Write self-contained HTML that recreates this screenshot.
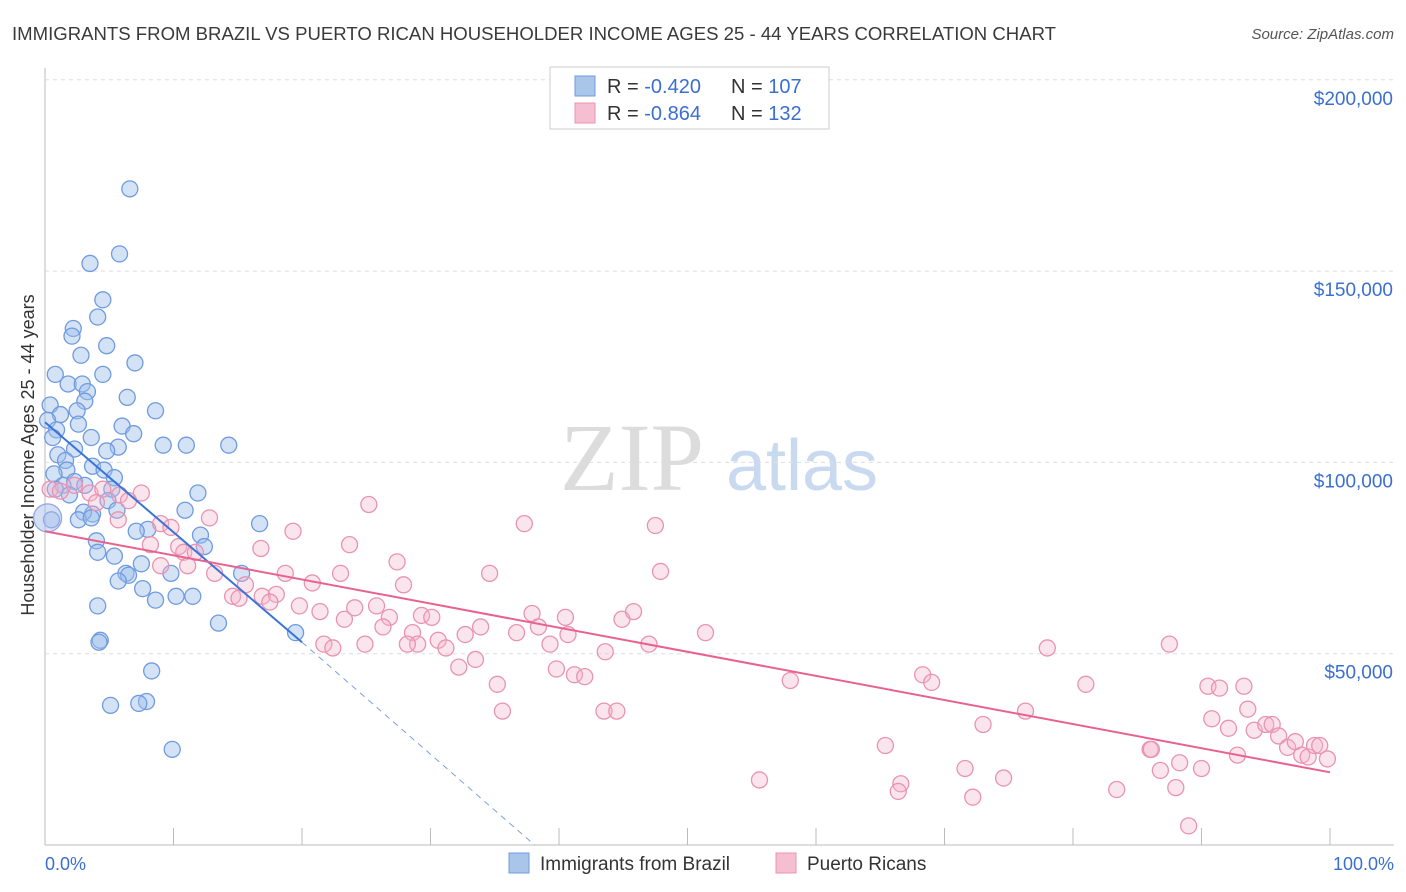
<!DOCTYPE html>
<html><head><meta charset="utf-8">
<style>
body{margin:0;background:#fff;font-family:"Liberation Sans",sans-serif;}
svg{display:block}
</style></head>
<body>
<svg id="chart" width="1406" height="892">
<text x="12" y="40" font-size="18" fill="#3a3a3a" textLength="1044" lengthAdjust="spacingAndGlyphs">IMMIGRANTS FROM BRAZIL VS PUERTO RICAN HOUSEHOLDER INCOME AGES 25 - 44 YEARS CORRELATION CHART</text>
<text x="1394" y="39" font-size="15" fill="#555" text-anchor="end" font-style="italic">Source: ZipAtlas.com</text>
<text x="0" y="0" transform="translate(34,455) rotate(-90)" font-size="18" fill="#333" text-anchor="middle">Householder Income Ages 25 - 44 years</text>
<g>
<text x="632" y="490" font-size="96" fill="#dcdcdc" font-family="Liberation Serif,serif" text-anchor="middle">ZIP</text>
<text x="802" y="490" font-size="72" fill="#c9daf0" text-anchor="middle">atlas</text>
</g>
<g id="grid"></g>
<g id="marks"></g>
<g>
<rect x="550" y="67" width="279" height="62" fill="#fff" stroke="#ccc"/>
<rect x="575" y="76" width="20" height="20" fill="#a9c5ea" stroke="#6f9be0"/>
<rect x="575" y="103" width="20" height="20" fill="#f6bfd1" stroke="#e993b1"/>
<text x="607" y="93" font-size="20" fill="#333">R = <tspan fill="#3a6fd0">-0.420</tspan></text>
<text x="731" y="93" font-size="20" fill="#333">N = <tspan fill="#3a6fd0">107</tspan></text>
<text x="607" y="120" font-size="20" fill="#333">R = <tspan fill="#3a6fd0">-0.864</tspan></text>
<text x="731" y="120" font-size="20" fill="#333">N = <tspan fill="#3a6fd0">132</tspan></text>
</g>
<g>
<rect x="509" y="853" width="20" height="20" fill="#a9c5ea" stroke="#6f9be0"/>
<text x="540" y="870" font-size="19" fill="#333">Immigrants from Brazil</text>
<rect x="776" y="853" width="20" height="20" fill="#f6bfd1" stroke="#e993b1"/>
<text x="807" y="870" font-size="19" fill="#333">Puerto Ricans</text>
</g>
<text x="45" y="870" font-size="18" fill="#3a6fd0">0.0%</text>
<text x="1394" y="870" font-size="18" fill="#3a6fd0" text-anchor="end">100.0%</text>
</svg>
<script>
const yTicks=[50000,100000,150000,200000];
const yTickLabels=["$50,000","$100,000","$150,000","$200,000"];
const xTicks=[0,10,20,30,40,50,60,70,80,90,100];
const brazilX=[6.6,5.8,3.5,4.5,4.1,2.2,2.1,4.8,2.8,7,0.8,4.5,1.8,2.9,3.3,6.4,3.1,8.6,0.4,2.5,1.2,0.2,2.6,6,0.9,6.9,3.6,0.6,9.2,11,14.3,5.7,4.8,2.3,1,1.6,3.7,4.6,1.7,0.7,5.4,2.3,1.4,3.1,5.2,11.9,0.8,1.9,4.9,5.6,3.7,3.0,10.9,2.6,3.6,16.7,8,7.1,12.1,0.5,12.4,4.0,4.1,5.4,7.5,6.3,6.5,9.8,15.3,5.7,7.6,10.2,11.5,8.6,4.1,13.5,19.5,4.3,8.3,5.1,7.9,7.3,9.9,4.2];
const brazilY=[171.5,154.5,152,142.5,138,135,133,130.5,128,126,123,123,120.5,120.5,118.5,117,116,113.5,115,113.5,112.5,111,110,109.5,108.5,107.5,106.5,106.5,104.5,104.5,104.5,104,103,103.5,102,100.5,99,98,98,97,96,95,94,94,93,92,93,91.5,90,87.5,86.5,87,87.5,85,85.5,84,82.5,82,81,85,78,79.5,76.5,75.5,73.5,71,70.5,71,71,69,67,65,65,64,62.5,58,55.5,53.5,45.5,36.5,37.5,37,25,53];
const prX=[0.4,1.2,2.3,3.5,4.5,5.8,7.5,6.5,4,5.7,9,9.8,12.8,8.2,10.4,10.8,11.7,9,11.1,13.2,16.8,19.3,23.7,25.2,27.4,27.9,23,20.8,18.7,15.6,14.6,15.1,16.9,18,17.5,19.8,21.4,24.1,25.8,23.3,26.8,29.3,30.1,26.3,28.6,30.6,29,31.2,32.7,33.9,21.7,22.4,24.9,28.2,33.5,32.2,34.6,37.3,37.9,38.4,36.7,39.3,40.5,40.7,39.8,41.2,42,43.6,44.9,45.8,47,47.5,47.9,51.4,35.2,35.6,43.5,44.5,58,55.6,65.4,66.6,66.4,68.3,69,71.6,72.2,73,74.6,76.3,78,81,83.4,86,86.1,86.8,87.5,88,88.3,89,90,90.5,91.4,90.8,92.1,92.8,93.3,93.6,94.1,95,95.5,96,96.7,97.3,97.8,98.3,98.8,99.2,99.8];
const prY=[93,92.5,94,92,93,91.5,92,90,89.5,85,84,83,85.5,78.5,78,76.5,76.5,73,73,71,77.5,82,78.5,89,74,68,71,68.5,71,68,65,64.5,65,65.5,63.5,62.5,61,62,62.5,59,59.5,60,59.5,57,55.5,53.5,52.5,51.5,55,57,52.5,51.5,52.5,52.5,48.5,46.5,71,84,60.5,57,55.5,52.5,59.5,55,46,44.5,44,50.5,59,61,52.5,83.5,71.5,55.5,42,35,35,35,43,17,26,16,14,44.5,42.5,20,12.5,31.5,17.5,35,51.5,42,14.5,25,25,19.5,52.5,15,21.5,5,20,41.5,41,33,30.5,23.5,41.5,35.5,30,31.5,31.5,28.5,25.5,27,23.5,23,26,26,22.5];
const brazilTrend=[[0,110.5],[20,53]];
const brazilTrendExt=[[20,53],[38.1,0]];
const prTrend=[[0,82],[100,19]];
const X=v=>45+v*12.85, Y=v=>845-v/50000*191.3, YK=v=>Y(v*1000);
const NS="http://www.w3.org/2000/svg";
const grid=document.getElementById('grid'), marks=document.getElementById('marks');
function mk(tag,attrs,parent){const e=document.createElementNS(NS,tag);for(const k in attrs)e.setAttribute(k,attrs[k]);parent.appendChild(e);return e;}
mk('line',{x1:45,y1:68,x2:45,y2:845,stroke:'#bbb'},grid);
mk('line',{x1:45,y1:845,x2:1394,y2:845,stroke:'#bbb'},grid);
yTicks.forEach((t,i)=>{
 const l=mk('line',{x1:45,y1:Y(t),x2:1394,y2:Y(t),stroke:'#ddd','stroke-dasharray':'4,4'},grid);
 
 
 const tx=mk('text',{x:1393,y:Y(t)+25,'font-size':19,fill:'#3a6fd0','text-anchor':'end'},grid);
 tx.textContent=yTickLabels[i];
 
 
});
xTicks.forEach(t=>{
 const l=mk('line',{x1:X(t),y1:828,x2:X(t),y2:845,stroke:'#bbb'},grid);
 
 
});
brazilX.forEach((x,i)=>{
 const c=mk('circle',{cx:X(x),cy:YK(brazilY[i]),r:8,fill:'rgba(160,190,235,0.45)',stroke:'#6f9be0','stroke-width':1.3},marks);
 
 
});
prX.forEach((x,i)=>{
 const c=mk('circle',{cx:X(x),cy:YK(prY[i]),r:8,fill:'rgba(244,180,204,0.35)',stroke:'#e993b1','stroke-width':1.3},marks);
 
 
});
const big=mk('circle',{cx:X(0.2),cy:YK(85.5),r:14,fill:'rgba(170,190,235,0.5)',stroke:'#8fa8e0','stroke-width':1.3},marks);


const t1=mk('line',{x1:X(brazilTrend[0][0]),y1:YK(brazilTrend[0][1]),x2:X(brazilTrend[1][0]),y2:YK(brazilTrend[1][1]),stroke:'#3a74d6','stroke-width':2},marks);


const t2=mk('line',{x1:X(brazilTrendExt[0][0]),y1:YK(brazilTrendExt[0][1]),x2:X(brazilTrendExt[1][0]),y2:YK(brazilTrendExt[1][1]),stroke:'#7aa0e0','stroke-width':1,'stroke-dasharray':'6,5'},marks);


const t3=mk('line',{x1:X(prTrend[0][0]),y1:YK(prTrend[0][1]),x2:X(prTrend[1][0]),y2:YK(prTrend[1][1]),stroke:'#e8628f','stroke-width':2},marks);


</script>
</body></html>
